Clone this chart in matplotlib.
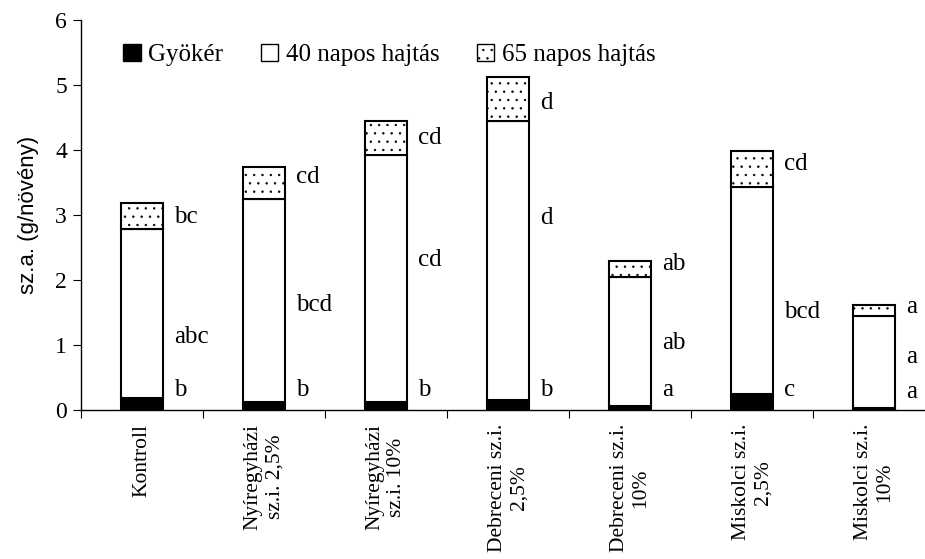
import matplotlib.pyplot as plt
from matplotlib.patches import Patch

plt.rcParams['font.family'] = ['Liberation Serif', 'DejaVu Serif']
plt.rcParams['hatch.linewidth'] = 0.5

categories = ["Kontroll", "Nyíregyházi\nsz.i. 2,5%", "Nyíregyházi\nsz.i. 10%",
              "Debreceni sz.i.\n2,5%", "Debreceni sz.i.\n10%",
              "Miskolci sz.i.\n2,5%", "Miskolci sz.i.\n10%"]

gyoker = [0.19, 0.13, 0.13, 0.16, 0.06, 0.25, 0.03]
hajtas40 = [2.59, 3.12, 3.79, 4.28, 1.98, 3.18, 1.41]
hajtas65 = [0.41, 0.49, 0.53, 0.68, 0.25, 0.55, 0.18]

# significance letters (bottom, middle, top)
letters_gy = ["b", "b", "b", "b", "a", "c", "a"]
letters_40 = ["abc", "bcd", "cd", "d", "ab", "bcd", "a"]
letters_65 = ["bc", "cd", "cd", "d", "ab", "cd", "a"]

# y positions of letter labels
y_gy = [0.31, 0.31, 0.31, 0.31, 0.31, 0.31, 0.28]
y_40 = [1.12, 1.62, 2.31, 2.95, 1.03, 1.50, 0.82]
y_65 = [2.97, 3.59, 4.19, 4.72, 2.24, 3.78, 1.58]

fig = plt.figure(figsize=(9.25, 5.59), dpi=100)
ax = fig.add_axes([81 / 925, 1 - 410 / 559, 844 / 925, 390 / 559])

x = list(range(len(categories)))
w = 0.34
bottom40 = gyoker
bottom65 = [a + b for a, b in zip(gyoker, hajtas40)]

ax.bar(x, gyoker, w, color="black", edgecolor="black", linewidth=1.5)
ax.bar(x, hajtas40, w, bottom=bottom40, color="white", edgecolor="black", linewidth=1.5)
ax.bar(x, hajtas65, w, bottom=bottom65, color="white", edgecolor="black",
       linewidth=1.5, hatch="..")

for i in x:
    xt = i + w / 2 + 0.09
    ax.text(xt, y_gy[i], letters_gy[i], fontsize=18, va="center", ha="left")
    ax.text(xt, y_40[i], letters_40[i], fontsize=18, va="center", ha="left")
    ax.text(xt, y_65[i], letters_65[i], fontsize=18, va="center", ha="left")

ax.set_xlim(-0.5, -0.5 + 844 / 122)
ax.set_ylim(0, 6)
ax.set_yticks(range(7))
ax.set_xticks([i - 0.5 for i in x])
ax.set_xticklabels([])
ax.set_xticks(x, minor=True)
ax.set_xticklabels(categories, minor=True, rotation=90, fontsize=15.5,
                   linespacing=1.2, ha="center", va="top")
ax.tick_params(axis="x", which="minor", length=0, pad=10)
ax.tick_params(axis="x", which="major", length=6, direction="out")
ax.tick_params(axis="y", length=6, direction="out", labelsize=17, pad=4)

for s in ["top", "right"]:
    ax.spines[s].set_visible(False)
ax.spines["left"].set_linewidth(1.0)
ax.spines["bottom"].set_linewidth(1.0)

ax.set_ylabel("sz.a. (g/növény)", fontsize=16,
              family=["Liberation Sans Narrow", "Liberation Sans"], labelpad=12)

handles = [Patch(facecolor="black", edgecolor="black"),
           Patch(facecolor="white", edgecolor="black"),
           Patch(facecolor="white", edgecolor="black", hatch="..")]
ax.legend(handles, ["Gyökér", "40 napos hajtás", "65 napos hajtás"],
          ncol=3, frameon=False, fontsize=18, loc="upper left",
          bbox_to_anchor=(0.038, 0.965), handlelength=0.7, handleheight=0.7,
          handletextpad=0.3, columnspacing=1.5, borderaxespad=0)

fig.savefig("out.png", dpi=100)
